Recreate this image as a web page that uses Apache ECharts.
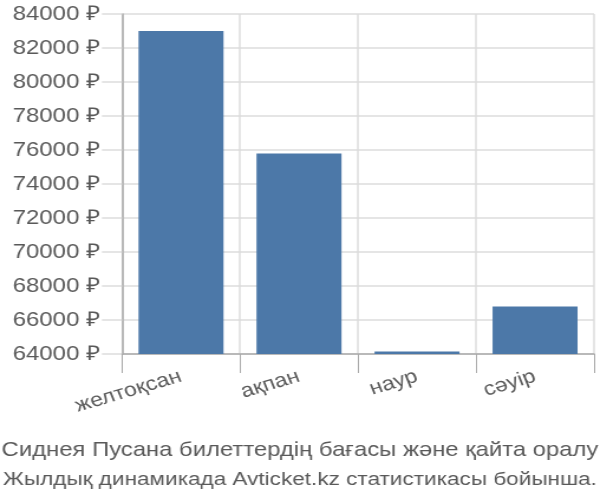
<!DOCTYPE html>
<html><head><meta charset="utf-8">
<script src="https://cdn.jsdelivr.net/npm/echarts@6/dist/echarts.min.js"></script>
<style>html,body{margin:0;padding:0;background:#fff;overflow:hidden}
#c{width:508px;height:500px;transform:scaleX(1.181);transform-origin:0 0}</style>
</head><body><div id="c"></div>
<script>
var categories = ['желтоқсан', 'ақпан', 'наур', 'сәуір'];
var prices = [83000, 75800, 64150, 66800];
var yMin = 64000, yMax = 84000, yStep = 2000;
var titleLines = ['Сиднея Пусана билеттердің бағасы және қайта оралу', 'Жылдық динамикада Avticket.kz статистикасы бойынша.'];

var chart = echarts.init(document.getElementById('c'), null, {renderer: 'canvas'});
var font = 'Liberation Sans, Arial, sans-serif';
var fs = 19.5;
chart.setOption({
  animation: false,
  textStyle: {fontFamily: font},
  title: [{
    text: titleLines[0],
    left: 'center', top: 430,
    textStyle: {fontFamily: font, fontSize: 20.2, fontWeight: 'normal', color: '#595959', lineHeight: 30}
  }, {
    text: titleLines[1],
    left: 'center', top: 460,
    textStyle: {fontFamily: font, fontSize: 19.1, fontWeight: 'normal', color: '#595959', lineHeight: 30}
  }],
  grid: {left: 103.3, right: 5, top: 14, bottom: 146, containLabel: false},
  xAxis: {
    type: 'category', data: categories, boundaryGap: true,
    axisLine: {lineStyle: {color: '#aaa', width: 1.5}},
    axisTick: {show: true, length: 19, alignWithLabel: false, lineStyle: {color: '#aaa'}},
    splitLine: {show: true, lineStyle: {color: '#ddd', width: 1.5}},
    axisLabel: {rotate: 19, fontSize: fs, color: '#595959', margin: 22, fontFamily: font, interval: 0}
  },
  yAxis: {
    type: 'value', min: yMin, max: yMax, interval: yStep,
    axisLine: {show: true, lineStyle: {color: '#aaa', width: 1.5}},
    axisTick: {show: true, length: 17, lineStyle: {color: '#ddd', width: 1.5}},
    splitLine: {show: true, lineStyle: {color: '#ddd', width: 1.5}},
    axisLabel: {fontSize: 20.3, color: '#595959', margin: 18.5, fontFamily: font,
      formatter: function (v) { return v + ' ₽'; }}
  },
  series: [{
    type: 'bar', data: prices, barCategoryGap: '28%',
    itemStyle: {color: '#4c78a8'}
  }]
});
</script></body></html>
